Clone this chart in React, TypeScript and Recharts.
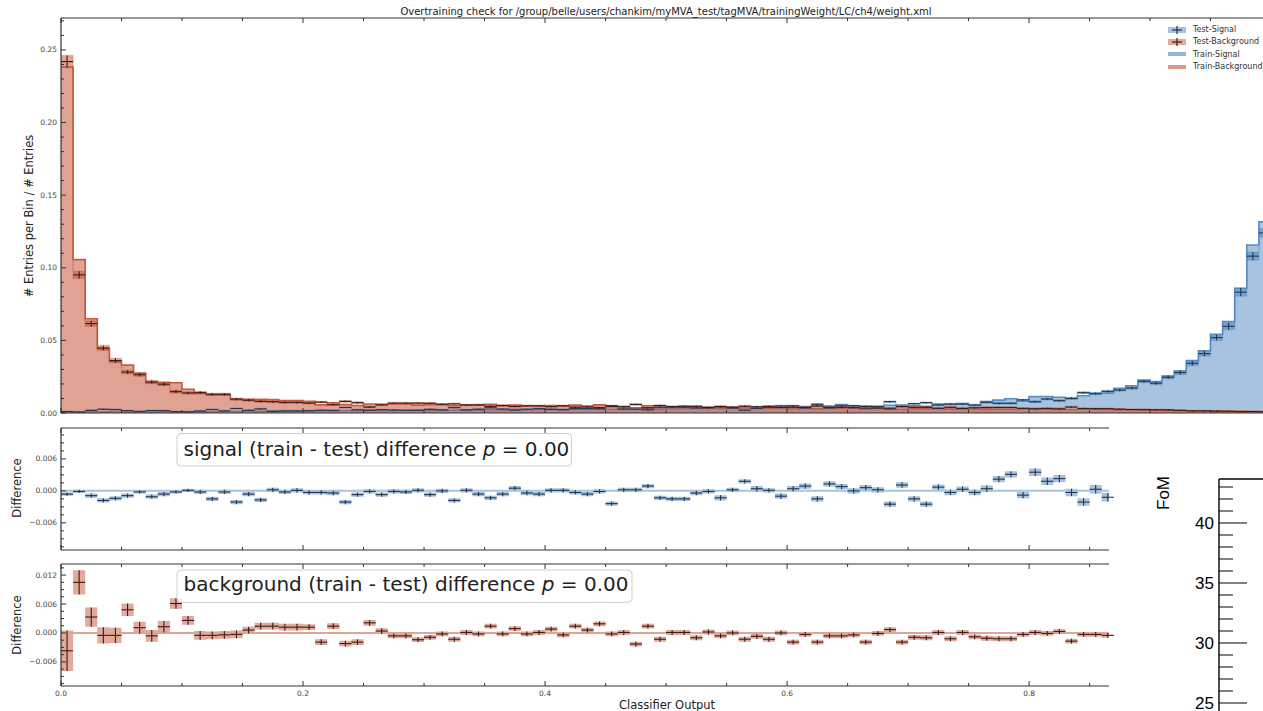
import React from "react"
import { ComposedChart, Area, Scatter, ErrorBar, XAxis, YAxis, ReferenceLine, Legend } from "recharts"

const FONT = "'DejaVu Sans', sans-serif"
const FOM_FONT = "'Liberation Sans', Arial, sans-serif"

const TITLE = "Overtraining check for /group/belle/users/chankim/myMVA_test/tagMVA/trainingWeight/LC/ch4/weight.xml"
const BIN_W = 0.01

// normalised bin contents (100 bins of 0.01)
const SIG_TRAIN = [
  0.0004, 0.0006, 0.0009, 0.0008, 0.0010, 0.0007, 0.0009, 0.0006, 0.0010, 0.0008,
  0.0009, 0.0011, 0.0009, 0.0012, 0.0010, 0.0013, 0.0011, 0.0013, 0.0012, 0.0015,
  0.0013, 0.0016, 0.0014, 0.0017, 0.0015, 0.0018, 0.0016, 0.0019, 0.0017, 0.0020,
  0.0018, 0.0021, 0.0019, 0.0022, 0.0020, 0.0023, 0.0021, 0.0025, 0.0022, 0.0024,
  0.0026, 0.0024, 0.0027, 0.0025, 0.0028, 0.0026, 0.0029, 0.0028, 0.0031, 0.0027,
  0.0030, 0.0032, 0.0031, 0.0034, 0.0032, 0.0036, 0.0037, 0.0036, 0.0040, 0.0039,
  0.0043, 0.0044, 0.0045, 0.0048, 0.0058, 0.0050, 0.0039, 0.0046, 0.0053, 0.0055,
  0.0049, 0.0046, 0.0062, 0.0059, 0.0065, 0.0052, 0.0078, 0.0089, 0.0098, 0.0082,
  0.0113, 0.0114, 0.0108, 0.0098, 0.0119, 0.0136, 0.0137, 0.0170, 0.0188, 0.0227,
  0.0216, 0.0255, 0.0289, 0.0361, 0.0429, 0.0542, 0.0629, 0.0859, 0.1157, 0.1316,
]
const SIG_TEST = [
  0.0010, 0.0007, 0.0018, 0.0026, 0.0024, 0.0016, 0.0011, 0.0017, 0.0016, 0.0010,
  0.0008, 0.0013, 0.0024, 0.0014, 0.0031, 0.0019, 0.0028, 0.0011, 0.0014, 0.0014,
  0.0016, 0.0019, 0.0018, 0.0038, 0.0022, 0.0019, 0.0023, 0.0020, 0.0019, 0.0019,
  0.0025, 0.0021, 0.0037, 0.0021, 0.0026, 0.0036, 0.0027, 0.0020, 0.0026, 0.0030,
  0.0025, 0.0023, 0.0030, 0.0031, 0.0029, 0.0050, 0.0027, 0.0026, 0.0022, 0.0040,
  0.0045, 0.0047, 0.0035, 0.0035, 0.0045, 0.0034, 0.0019, 0.0032, 0.0039, 0.0049,
  0.0039, 0.0035, 0.0060, 0.0035, 0.0050, 0.0050, 0.0033, 0.0044, 0.0078, 0.0044,
  0.0064, 0.0071, 0.0055, 0.0062, 0.0062, 0.0055, 0.0074, 0.0067, 0.0067, 0.0090,
  0.0078, 0.0096, 0.0085, 0.0101, 0.0140, 0.0133, 0.0149, 0.0158, 0.0172, 0.0218,
  0.0205, 0.0246, 0.0278, 0.0342, 0.0409, 0.0519, 0.0597, 0.0832, 0.1080, 0.1240,
]
const SIG_ERR = [
  0.0003, 0.0003, 0.0004, 0.0004, 0.0004, 0.0004, 0.0003, 0.0004, 0.0004, 0.0003,
  0.0003, 0.0004, 0.0004, 0.0004, 0.0004, 0.0004, 0.0004, 0.0004, 0.0004, 0.0004,
  0.0004, 0.0004, 0.0004, 0.0004, 0.0004, 0.0004, 0.0004, 0.0004, 0.0004, 0.0004,
  0.0004, 0.0004, 0.0004, 0.0004, 0.0004, 0.0004, 0.0004, 0.0004, 0.0004, 0.0004,
  0.0004, 0.0004, 0.0004, 0.0004, 0.0004, 0.0004, 0.0004, 0.0004, 0.0004, 0.0004,
  0.0004, 0.0004, 0.0004, 0.0004, 0.0005, 0.0004, 0.0004, 0.0005, 0.0004, 0.0005,
  0.0005, 0.0005, 0.0005, 0.0005, 0.0005, 0.0005, 0.0005, 0.0005, 0.0005, 0.0005,
  0.0005, 0.0005, 0.0005, 0.0005, 0.0005, 0.0005, 0.0006, 0.0006, 0.0006, 0.0006,
  0.0007, 0.0007, 0.0007, 0.0007, 0.0007, 0.0008, 0.0008, 0.0008, 0.0009, 0.0010,
  0.0011, 0.0012, 0.0014, 0.0016, 0.0018, 0.0020, 0.0024, 0.0028, 0.0028, 0.0030,
]
const BKG_TRAIN = [
  0.2383, 0.1056, 0.0649, 0.0443, 0.0356, 0.0330, 0.0275, 0.0208, 0.0211, 0.0208,
  0.0164, 0.0135, 0.0124, 0.0125, 0.0093, 0.0094, 0.0094, 0.0092, 0.0085, 0.0085,
  0.0080, 0.0056, 0.0071, 0.0058, 0.0052, 0.0062, 0.0060, 0.0062, 0.0062, 0.0054,
  0.0058, 0.0058, 0.0050, 0.0056, 0.0054, 0.0060, 0.0050, 0.0054, 0.0048, 0.0050,
  0.0052, 0.0046, 0.0054, 0.0048, 0.0056, 0.0044, 0.0044, 0.0036, 0.0050, 0.0038,
  0.0042, 0.0042, 0.0036, 0.0040, 0.0037, 0.0040, 0.0034, 0.0036, 0.0033, 0.0038,
  0.0030, 0.0036, 0.0029, 0.0034, 0.0033, 0.0033, 0.0027, 0.0033, 0.0036, 0.0026,
  0.0030, 0.0029, 0.0033, 0.0027, 0.0032, 0.0028, 0.0027, 0.0026, 0.0026, 0.0029,
  0.0030, 0.0030, 0.0031, 0.0024, 0.0028, 0.0027, 0.0025, 0.0024, 0.0022, 0.0024,
  0.0021, 0.0020, 0.0017, 0.0016, 0.0014, 0.0013, 0.0012, 0.0011, 0.0010, 0.0009,
]
const BKG_TEST = [
  0.2420, 0.0951, 0.0616, 0.0448, 0.0361, 0.0282, 0.0264, 0.0214, 0.0198, 0.0147,
  0.0138, 0.0140, 0.0129, 0.0129, 0.0096, 0.0088, 0.0080, 0.0078, 0.0073, 0.0073,
  0.0068, 0.0075, 0.0057, 0.0080, 0.0071, 0.0041, 0.0056, 0.0068, 0.0068, 0.0068,
  0.0067, 0.0060, 0.0063, 0.0055, 0.0056, 0.0046, 0.0052, 0.0045, 0.0050, 0.0049,
  0.0044, 0.0050, 0.0040, 0.0042, 0.0037, 0.0046, 0.0043, 0.0059, 0.0036, 0.0051,
  0.0041, 0.0041, 0.0046, 0.0038, 0.0043, 0.0040, 0.0047, 0.0043, 0.0046, 0.0038,
  0.0049, 0.0039, 0.0048, 0.0040, 0.0039, 0.0037, 0.0046, 0.0034, 0.0029, 0.0045,
  0.0039, 0.0039, 0.0032, 0.0039, 0.0031, 0.0036, 0.0038, 0.0038, 0.0038, 0.0032,
  0.0029, 0.0031, 0.0028, 0.0041, 0.0031, 0.0030, 0.0030, 0.0026, 0.0024, 0.0023,
  0.0022, 0.0021, 0.0018, 0.0015, 0.0015, 0.0013, 0.0012, 0.0010, 0.0010, 0.0009,
]
const BKG_ERR = [
  0.0042, 0.0025, 0.0020, 0.0017, 0.0016, 0.0013, 0.0012, 0.0012, 0.0012, 0.0011,
  0.0009, 0.0009, 0.0008, 0.0008, 0.0008, 0.0007, 0.0007, 0.0007, 0.0007, 0.0007,
  0.0006, 0.0006, 0.0006, 0.0006, 0.0006, 0.0006, 0.0006, 0.0005, 0.0005, 0.0005,
  0.0005, 0.0005, 0.0005, 0.0005, 0.0005, 0.0005, 0.0005, 0.0005, 0.0005, 0.0005,
  0.0005, 0.0005, 0.0005, 0.0005, 0.0005, 0.0005, 0.0005, 0.0005, 0.0005, 0.0005,
  0.0005, 0.0005, 0.0005, 0.0005, 0.0005, 0.0005, 0.0005, 0.0005, 0.0005, 0.0005,
  0.0005, 0.0005, 0.0005, 0.0005, 0.0005, 0.0005, 0.0005, 0.0005, 0.0005, 0.0005,
  0.0005, 0.0005, 0.0005, 0.0005, 0.0005, 0.0005, 0.0005, 0.0005, 0.0005, 0.0005,
  0.0005, 0.0005, 0.0005, 0.0005, 0.0005, 0.0005, 0.0005, 0.0005, 0.0004, 0.0004,
  0.0004, 0.0004, 0.0004, 0.0004, 0.0004, 0.0004, 0.0004, 0.0004, 0.0004, 0.0004,
]

// train - test, the lower panels stop near 0.866
const SIG_DIFF = [
  -0.0006, -0.0001, -0.0009, -0.0018, -0.0014, -0.0009, -0.0002, -0.0011, -0.0006, -0.0002,
  0.0001, -0.0002, -0.0015, -0.0002, -0.0021, -0.0006, -0.0017, 0.0002, -0.0002, 0.0001,
  -0.0003, -0.0003, -0.0004, -0.0021, -0.0007, -0.0001, -0.0007, -0.0001, -0.0002, 0.0001,
  -0.0007, 0.0, -0.0018, 0.0001, -0.0006, -0.0013, -0.0006, 0.0005, -0.0004, -0.0006,
  0.0001, 0.0001, -0.0003, -0.0006, -0.0001, -0.0024, 0.0002, 0.0002, 0.0009, -0.0013,
  -0.0015, -0.0015, -0.0004, -0.0001, -0.0013, 0.0002, 0.0018, 0.0004, 0.0001, -0.0010,
  0.0004, 0.0009, -0.0015, 0.0013, 0.0008, 0.0, 0.0006, 0.0002, -0.0025, 0.0011,
  -0.0015, -0.0025, 0.0007, -0.0003, 0.0003, -0.0003, 0.0004, 0.0022, 0.0031, -0.0008,
  0.0035, 0.0018, 0.0023, -0.0003, -0.0021, 0.0003, -0.0012,
]
const BKG_DIFF = [
  -0.0037, 0.0105, 0.0033, -0.0005, -0.0005, 0.0048, 0.0011, -0.0006, 0.0013, 0.0061,
  0.0026, -0.0005, -0.0005, -0.0004, -0.0003, 0.0006, 0.0014, 0.0014, 0.0012, 0.0012,
  0.0012, -0.0019, 0.0014, -0.0022, -0.0019, 0.0021, 0.0004, -0.0006, -0.0006, -0.0014,
  -0.0009, -0.0002, -0.0013, 0.0001, -0.0002, 0.0014, -0.0002, 0.0009, -0.0002, 0.0001,
  0.0008, -0.0004, 0.0014, 0.0006, 0.0019, -0.0002, 0.0001, -0.0023, 0.0014, -0.0013,
  0.0001, 0.0001, -0.0010, 0.0002, -0.0006, 0.0, -0.0013, -0.0007, -0.0013, 0.0,
  -0.0019, -0.0003, -0.0019, -0.0006, -0.0006, -0.0004, -0.0019, -0.0001, 0.0007, -0.0019,
  -0.0009, -0.0010, 0.0001, -0.0012, 0.0001, -0.0008, -0.0011, -0.0012, -0.0012, -0.0003,
  0.0001, -0.0001, 0.0003, -0.0017, -0.0003, -0.0003, -0.0005,
]

const X_MAJOR = [0, 0.2, 0.4, 0.6, 0.8, 1.0]
const TOP_Y_MAJOR = [0, 0.05, 0.1, 0.15, 0.2, 0.25]
const SIG_D_MAJOR = [-0.006, 0, 0.006]
const BKG_D_MAJOR = [-0.006, 0, 0.006, 0.012]
const FOM_MAJOR = [25, 30, 35, 40]

const LEGEND_ITEMS = [
  { label: "Test-Signal", kind: "test", sig: true },
  { label: "Test-Background", kind: "test", sig: false },
  { label: "Train-Signal", kind: "train", sig: true },
  { label: "Train-Background", kind: "train", sig: false },
]

const SIG = "#4f87bf"
const SIG_LINE = "#5a8dc2"
const SIG_DARK = "#1f3550"
const BKG = "#c4553a"
const BKG_LINE = "#c95a3f"
const BKG_DARK = "#3d1a12"
const SPINE = { stroke: "#333", strokeWidth: 1.2 }

const steps = (from: number, to: number, step: number) => {
  const out: number[] = []
  for (let v = from; v <= to + step * 1e-3; v += step) out.push(Math.round(v * 1e6) / 1e6)
  return out
}

const fmtDiff = (v: number) => (Math.abs(v) < 1e-9 ? "0.000" : v.toFixed(3).replace("-", "\u2212"))

type TickOpts = {
  major?: number
  minor?: number
  label?: (v: number) => string
  gap?: number
  size?: number
  family?: string
  color?: string
  stroke?: string
}

// matplotlib style: ticks point into the plot, minor ticks shorter
const makeTick = (side: "left" | "bottom" | "top", majors: number[], o: TickOpts = {}) =>
  (props: any) => {
    const { x, y, payload } = props
    const v = payload.value as number
    const isMajor = majors.some((m) => Math.abs(m - v) < 1e-7)
    const len = isMajor ? (o.major ?? 5) : (o.minor ?? 3)
    const stroke = o.stroke ?? "#333"
    let line
    if (side === "left") line = <line x1={x} y1={y} x2={x + len} y2={y} stroke={stroke} strokeWidth={1} />
    else if (side === "bottom") line = <line x1={x} y1={y} x2={x} y2={y - len} stroke={stroke} strokeWidth={1} />
    else line = <line x1={x} y1={y} x2={x} y2={y + len} stroke={stroke} strokeWidth={1} />
    let text = null
    if (isMajor && o.label) {
      const gap = o.gap ?? 4
      const common = { fontSize: o.size ?? 7.5, fontFamily: o.family ?? FONT, fill: o.color ?? "#444" }
      text = side === "left"
        ? <text x={x - gap} y={y} textAnchor="end" dominantBaseline="central" {...common}>{o.label(v)}</text>
        : <text x={x} y={y + gap} textAnchor="middle" dominantBaseline="hanging" {...common}>{o.label(v)}</text>
    }
    return <g>{line}{text}</g>
  }

const noShape = () => <g />

// step-area rows: one row per bin edge, last edge repeats the last bin
const topRows = Array.from({ length: SIG_TRAIN.length + 1 }, (_, k) => {
  const i = Math.min(k, SIG_TRAIN.length - 1)
  return {
    x: k * BIN_W,
    sigTrain: SIG_TRAIN[i],
    bkgTrain: BKG_TRAIN[i],
    sigBox: [SIG_TEST[i] - SIG_ERR[i], SIG_TEST[i] + SIG_ERR[i]],
    bkgBox: [BKG_TEST[i] - BKG_ERR[i], BKG_TEST[i] + BKG_ERR[i]],
  }
})
const sigPts = SIG_TEST.map((y, i) => ({ x: (i + 0.5) * BIN_W, y, ex: BIN_W / 2, ey: SIG_ERR[i] }))
const bkgPts = BKG_TEST.map((y, i) => ({ x: (i + 0.5) * BIN_W, y, ex: BIN_W / 2, ey: BKG_ERR[i] }))

const diffRows = Array.from({ length: SIG_DIFF.length + 1 }, (_, k) => {
  const i = Math.min(k, SIG_DIFF.length - 1)
  return {
    x: k * BIN_W,
    sigBox: [SIG_DIFF[i] - SIG_ERR[i], SIG_DIFF[i] + SIG_ERR[i]],
    bkgBox: [BKG_DIFF[i] - BKG_ERR[i], BKG_DIFF[i] + BKG_ERR[i]],
  }
})
const sigDiffPts = SIG_DIFF.map((y, i) => ({ x: (i + 0.5) * BIN_W, y, ex: BIN_W / 2, ey: SIG_ERR[i] }))
const bkgDiffPts = BKG_DIFF.map((y, i) => ({ x: (i + 0.5) * BIN_W, y, ex: BIN_W / 2, ey: BKG_ERR[i] }))

const X_MAX_DIFF = 0.866
const xTicksTop = steps(0, 1, 0.05)
const xTicksDiff = xTicksTop.filter((v) => v <= X_MAX_DIFF)

const renderLegend = () => (
  <div style={{ fontFamily: FONT, fontSize: 8, color: "#333" }}>
    {LEGEND_ITEMS.map((it) => {
      const c = it.sig ? SIG : BKG
      const dark = it.sig ? SIG_DARK : BKG_DARK
      return (
        <div key={it.label} style={{ display: "flex", alignItems: "center", height: 12.3, whiteSpace: "nowrap" }}>
          <svg width={18} height={10} style={{ marginRight: 7 }}>
            {it.kind === "test" ? (
              <>
                <rect x={0} y={2} width={18} height={6} fill={c} fillOpacity={0.5} />
                <line x1={4} y1={5} x2={14} y2={5} stroke={dark} strokeWidth={1.2} />
                <line x1={9} y1={1} x2={9} y2={9} stroke={dark} strokeWidth={1.2} />
              </>
            ) : (
              <rect x={0} y={3} width={18} height={4} fill={c} fillOpacity={0.6} />
            )}
          </svg>
          <span>{it.label}</span>
        </div>
      )
    })}
  </div>
)

const Crosses = ({ data, dark }: { data: any[]; dark: string }) => (
  <Scatter data={data} dataKey="y" shape={noShape} isAnimationActive={false}>
    <ErrorBar dataKey="ey" direction="y" width={0} stroke={dark} strokeWidth={1.1} isAnimationActive={false} />
    <ErrorBar dataKey="ex" direction="x" width={0} stroke={dark} strokeWidth={1.1} isAnimationActive={false} />
  </Scatter>
)

const DiffPanel = ({ top, height, marginTop, marginBottom, domain, yTicks, majors, boxKey, pts, color, dark, zero, xLabels }: any) => (
  <div style={{ position: "absolute", left: 0, top }}>
    <ComposedChart width={1120} height={height} data={diffRows} margin={{ top: marginTop, right: 11, bottom: marginBottom, left: 0 }}>
      <XAxis dataKey="x" type="number" domain={[0, X_MAX_DIFF]} allowDataOverflow ticks={xTicksDiff} interval={0}
        height={1} tickLine={false} tickSize={0} tickMargin={0} axisLine={SPINE}
        tick={makeTick("bottom", X_MAJOR, xLabels ? { label: (v) => v.toFixed(1), gap: 4 } : {})} />
      <XAxis xAxisId="top" orientation="top" dataKey="x" type="number" domain={[0, X_MAX_DIFF]} allowDataOverflow
        ticks={xTicksDiff} interval={0} height={1} tickLine={false} tickSize={0} tickMargin={0} axisLine={SPINE}
        tick={makeTick("top", X_MAJOR)} />
      <YAxis type="number" domain={domain} allowDataOverflow ticks={yTicks} interval={0} width={61}
        tickLine={false} tickSize={0} tickMargin={0} axisLine={SPINE}
        tick={makeTick("left", majors, { label: fmtDiff })} />
      <ReferenceLine y={0} stroke={zero} strokeWidth={2} />
      <Area type="stepAfter" dataKey={boxKey} stroke="none" fill={color}
        fillOpacity={0.5} dot={false} activeDot={false} isAnimationActive={false} />
      <Crosses data={pts} dark={dark} />
    </ComposedChart>
  </div>
)

export default function App() {
  return (
    <div style={{ position: "absolute", left: 0, top: 0, width: 1263, height: 711, overflow: "hidden", background: "#fff", fontFamily: FONT }}>
      <div style={{ position: "absolute", left: 0, top: 0 }}>
        <ComposedChart width={1290} height={420} data={topRows} margin={{ top: 17, right: 19, bottom: 6, left: 0 }}>
          <XAxis dataKey="x" type="number" domain={[0, 1]} allowDataOverflow ticks={xTicksTop} interval={0}
            height={1} tickLine={false} tickSize={0} tickMargin={0} axisLine={SPINE} tick={makeTick("bottom", X_MAJOR)} />
          <XAxis xAxisId="top" orientation="top" dataKey="x" type="number" domain={[0, 1]} allowDataOverflow
            ticks={xTicksTop} interval={0} height={1} tickLine={false} tickSize={0} tickMargin={0} axisLine={SPINE}
            tick={makeTick("top", X_MAJOR)} />
          <YAxis type="number" domain={[0, 0.272]} allowDataOverflow ticks={steps(0, 0.27, 0.01)} interval={0} width={61}
            tickLine={false} tickSize={0} tickMargin={0} axisLine={SPINE}
            tick={makeTick("left", TOP_Y_MAJOR, { label: (v) => v.toFixed(2) })} />
          <Area type="stepAfter" dataKey="sigTrain" stroke={SIG_LINE} strokeWidth={1.6} fill={SIG} fillOpacity={0.5}
            dot={false} activeDot={false} isAnimationActive={false} />
          <Area type="stepAfter" dataKey="bkgTrain" stroke={BKG_LINE} strokeWidth={1.6} fill={BKG} fillOpacity={0.55}
            dot={false} activeDot={false} isAnimationActive={false} />
          <Area type="stepAfter" dataKey="sigBox" stroke={SIG} strokeOpacity={0.25} strokeWidth={1.2} fill={SIG} fillOpacity={0.55}
            dot={false} activeDot={false} isAnimationActive={false} />
          <Area type="stepAfter" dataKey="bkgBox" stroke={BKG} strokeOpacity={0.25} strokeWidth={1.2} fill={BKG} fillOpacity={0.55}
            dot={false} activeDot={false} isAnimationActive={false} />
          {Crosses({ data: sigPts, dark: SIG_DARK })}
          {Crosses({ data: bkgPts, dark: BKG_DARK })}
          <Legend layout="vertical" align="center" verticalAlign="middle" content={renderLegend}
            wrapperStyle={{ top: 23.5, left: 1168, width: 110 }} />
        </ComposedChart>
      </div>

      {DiffPanel({
        top: 420, height: 140, marginTop: 7, marginBottom: 9, domain: [-0.0111, 0.0118],
        yTicks: steps(-0.0105, 0.0105, 0.0015), majors: SIG_D_MAJOR, boxKey: "sigBox", pts: sigDiffPts,
        color: SIG, dark: SIG_DARK, zero: "#a7c3de", xLabels: false,
      })}
      {DiffPanel({
        top: 555, height: 145, marginTop: 8, marginBottom: 13, domain: [-0.0110, 0.0143],
        yTicks: steps(-0.0105, 0.0135, 0.0015), majors: BKG_D_MAJOR, boxKey: "bkgBox", pts: bkgDiffPts,
        color: BKG, dark: BKG_DARK, zero: "#e0a595", xLabels: true,
      })}

      <div style={{ position: "absolute", left: 1150, top: 470 }}>
        <ComposedChart width={200} height={300} data={[]} margin={{ top: 8, right: 0, bottom: 0, left: 0 }}>
          <XAxis type="number" orientation="top" domain={[0, 1]} height={1} tick={false} tickLine={false}
            axisLine={{ stroke: "#000", strokeWidth: 1.4 }} />
          <YAxis type="number" domain={[19.4167, 43.6667]} allowDataOverflow ticks={steps(24, 43, 1)} interval={0} width={69}
            tickLine={false} tickSize={0} tickMargin={0} axisLine={{ stroke: "#000", strokeWidth: 1.4 }}
            tick={makeTick("left", FOM_MAJOR, { major: 28, minor: 14, label: (v) => String(v), gap: 5, size: 17, family: FOM_FONT, color: "#000", stroke: "#000" })} />
        </ComposedChart>
      </div>

      <svg width={1263} height={711} style={{ position: "absolute", left: 0, top: 0, pointerEvents: "none" }}>
        <text x={666} y={14.5} textAnchor="middle" fontSize={10} fontFamily={FONT} fill="#222">{TITLE}</text>
        <text transform="translate(29,216) rotate(-90)" textAnchor="middle" dominantBaseline="central" fontSize={11.5} fontFamily={FONT} fill="#222">
          # Entries per Bin / # Entries
        </text>
        <text transform="translate(17,488) rotate(-90)" textAnchor="middle" dominantBaseline="central" fontSize={11.5} fontFamily={FONT} fill="#222">Difference</text>
        <text transform="translate(17,625) rotate(-90)" textAnchor="middle" dominantBaseline="central" fontSize={11.5} fontFamily={FONT} fill="#222">Difference</text>
        <text x={667} y={709} textAnchor="middle" fontSize={11.5} fontFamily={FONT} fill="#222">Classifier Output</text>
        <text transform="translate(1163,493) rotate(-90)" textAnchor="middle" dominantBaseline="central" fontSize={17} fontFamily={FOM_FONT} fill="#000">FoM</text>

        <rect x={177} y={433.5} width={394.5} height={32.5} rx={4} fill="#fff" fillOpacity={0.8} stroke="#cfcfcf" />
        <text x={183.5} y={455.5} fontSize={20} fontFamily={FONT} fill="#222">
          signal (train - test) difference <tspan fontStyle="italic">p</tspan> = 0.00
        </text>
        <rect x={177} y={570} width={455} height={32.3} rx={4} fill="#fff" fillOpacity={0.8} stroke="#cfcfcf" />
        <text x={183.5} y={591} fontSize={20} fontFamily={FONT} fill="#222">
          background (train - test) difference <tspan fontStyle="italic">p</tspan> = 0.00
        </text>
      </svg>
    </div>
  )
}
